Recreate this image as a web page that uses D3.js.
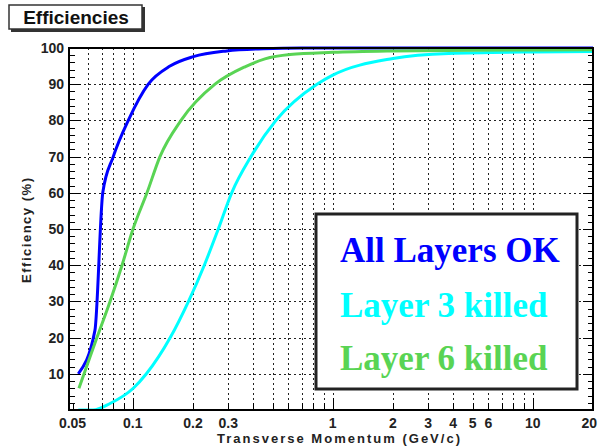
<!DOCTYPE html>
<html>
<head>
<meta charset="utf-8">
<script src="https://cdn.jsdelivr.net/npm/d3@7"></script>
<style>
  html, body { margin: 0; padding: 0; background: #fff; }
  svg { display: block; }
</style>
</head>
<body>
<svg id="chart" width="598" height="448"></svg>
<script>
// Tracking efficiency vs transverse momentum for three detector configurations

const allOkP   = [0.0534, 0.0647, 0.0708, 0.0799, 0.095, 0.1196, 0.1536, 0.2008, 0.295, 0.45, 0.7, 1, 20];
const allOkEff = [10, 22, 60, 70, 80, 90, 95, 97.6, 99.2, 99.8, 100, 100, 100];

const layer3P   = [0.0534, 0.0633, 0.077, 0.1006, 0.117, 0.154, 0.19, 0.2279, 0.2677, 0.3124, 0.39, 0.52, 0.834, 1.0, 2.0, 3.8, 10, 20];
const layer3Eff = [0, 0, 1.8, 6, 10, 20, 30, 40, 50, 60, 70, 80, 90, 92.5, 97.1, 98.5, 98.9, 99.0];

const layer6P   = [0.0538, 0.0571, 0.0662, 0.077, 0.0884, 0.1003, 0.1178, 0.1368, 0.1743, 0.2578, 0.364, 0.458, 0.611, 1.0, 2, 5, 20];
const layer6Eff = [6, 10, 20, 30, 40, 50, 60, 70, 80, 90, 94.8, 97, 98.2, 98.8, 99.2, 99.4, 99.5];

const seriesNames  = ["All Layers OK", "Layer 3 killed", "Layer 6 killed"];
const seriesColors = ["#0000ff", "#00ffff", "#59d454"];

const xTickLabels = [0.05, 0.1, 0.2, 0.3, 1, 2, 3, 4, 5, 6, 10, 20];
const yTickLabels = [10, 20, 30, 40, 50, 60, 70, 80, 90, 100];

const svg = d3.select("#chart");
const plotL = 69, plotR = 593, plotT = 48, plotB = 410;

const x = d3.scaleLog().domain([0.048, 20]).range([plotL, plotR]);
const y = d3.scaleLinear().domain([0, 100]).range([plotB, plotT]);

// vertical grid at every decade subdivision
const xGridVals = [];
[0.01, 0.1, 1, 10].forEach(d => { for (let k = 1; k <= 9; k++) { const v = +(d * k).toPrecision(3); if (v >= 0.05 && v <= 20) xGridVals.push(v); } });

const grid = svg.append("g").attr("stroke", "#222").attr("stroke-width", 1).attr("stroke-dasharray", "2,3");
grid.selectAll("line.v").data(xGridVals.filter(v => v > 0.05 && v < 20)).join("line")
  .attr("x1", d => Math.round(x(d)) + 0.5).attr("x2", d => Math.round(x(d)) + 0.5)
  .attr("y1", plotT).attr("y2", plotB);
grid.selectAll("line.h").data(d3.range(10, 100, 10)).join("line")
  .attr("x1", plotL).attr("x2", plotR)
  .attr("y1", d => Math.round(y(d)) + 0.5).attr("y2", d => Math.round(y(d)) + 0.5);

// curves
svg.append("clipPath").attr("id", "plotClip").append("rect")
  .attr("x", plotL).attr("y", plotT - 2).attr("width", plotR - plotL).attr("height", plotB - plotT + 2);

const line = d3.line().x(d => x(d[0])).y(d => y(d[1])).curve(d3.curveMonotoneX);
const series = [
  d3.zip(allOkP, allOkEff),
  d3.zip(layer3P, layer3Eff),
  d3.zip(layer6P, layer6Eff)
];
const curves = svg.append("g").attr("clip-path", "url(#plotClip)");
series.forEach((s, i) => {
  curves.append("path").datum(s)
    .attr("d", line).attr("fill", "none")
    .attr("stroke", seriesColors[i]).attr("stroke-width", 3)
    .attr("stroke-linejoin", "round");
});

// axes ticks (inward, ROOT style)
const ticks = svg.append("g").attr("stroke", "#000").attr("stroke-width", 1);
d3.range(0, 101, 2).forEach(v => {
  const len = v % 10 === 0 ? 12 : 6;
  const yy = Math.round(y(v)) + 0.5;
  ticks.append("line").attr("x1", plotL).attr("x2", plotL + len).attr("y1", yy).attr("y2", yy);
  ticks.append("line").attr("x1", plotR).attr("x2", plotR - (v % 10 === 0 ? 10 : 5)).attr("y1", yy).attr("y2", yy);
});
xGridVals.forEach(v => {
  const isDecade = Math.abs(Math.log10(v) - Math.round(Math.log10(v))) < 1e-6;
  const xx = Math.round(x(v)) + 0.5;
  ticks.append("line").attr("x1", xx).attr("x2", xx).attr("y1", plotB).attr("y2", plotB - (isDecade ? 12 : 7));
});

// frame
svg.append("rect").attr("x", plotL).attr("y", plotT).attr("width", plotR - plotL).attr("height", plotB - plotT)
  .attr("fill", "none").attr("stroke", "#000").attr("stroke-width", 2);

// tick labels
const labelFont = "'Liberation Sans', Arial, sans-serif";
svg.append("g").selectAll("text").data(yTickLabels).join("text")
  .attr("x", 64).attr("y", d => y(d) + 5)
  .attr("text-anchor", "end").attr("font-family", labelFont).attr("font-weight", "bold")
  .attr("font-size", 14).attr("fill", "#222").text(d => d);
const lastX = xTickLabels[xTickLabels.length - 1];
svg.append("g").selectAll("text").data(xTickLabels).join("text")
  .attr("x", d => d === lastX ? 597 : x(d)).attr("y", 428)
  .attr("text-anchor", d => d === lastX ? "end" : "middle")
  .attr("font-family", labelFont).attr("font-weight", "bold")
  .attr("font-size", 14).attr("fill", "#222").text(d => d);

// axis titles
svg.append("text").attr("x", 460).attr("y", 443).attr("text-anchor", "end")
  .attr("font-family", labelFont).attr("font-weight", "bold").attr("font-size", 13)
  .attr("textLength", 243).attr("lengthAdjust", "spacing")
  .attr("fill", "#222").text("Transverse Momentum (GeV/c)");
svg.append("text").attr("transform", "translate(31,178) rotate(-90)").attr("text-anchor", "end")
  .attr("font-family", labelFont).attr("font-weight", "bold").attr("font-size", 13)
  .attr("textLength", 105).attr("lengthAdjust", "spacing")
  .attr("fill", "#222").text("Efficiency (%)");

// title box with shadow
svg.append("rect").attr("x", 11).attr("y", 7).attr("width", 134).attr("height", 25).attr("fill", "#333");
svg.append("rect").attr("x", 9).attr("y", 5).attr("width", 133).attr("height", 24)
  .attr("fill", "#fff").attr("stroke", "#333").attr("stroke-width", 1.5);
svg.append("text").attr("x", 76).attr("y", 24).attr("text-anchor", "middle")
  .attr("font-family", labelFont).attr("font-weight", "bold").attr("font-size", 19)
  .attr("fill", "#111").text("Efficiencies");

// legend
const lg = svg.append("g");
lg.append("rect").attr("x", 316).attr("y", 214).attr("width", 261).attr("height", 175)
  .attr("fill", "#fff").attr("stroke", "#222").attr("stroke-width", 3);
const legendBaselines = [262, 317, 370];
seriesNames.forEach((name, i) => {
  lg.append("text").attr("x", 340).attr("y", legendBaselines[i])
    .attr("font-family", "'Liberation Serif', 'Times New Roman', serif").attr("font-weight", "bold")
    .attr("font-size", 35).attr("fill", seriesColors[i]).text(name);
});
</script>
</body>
</html>
